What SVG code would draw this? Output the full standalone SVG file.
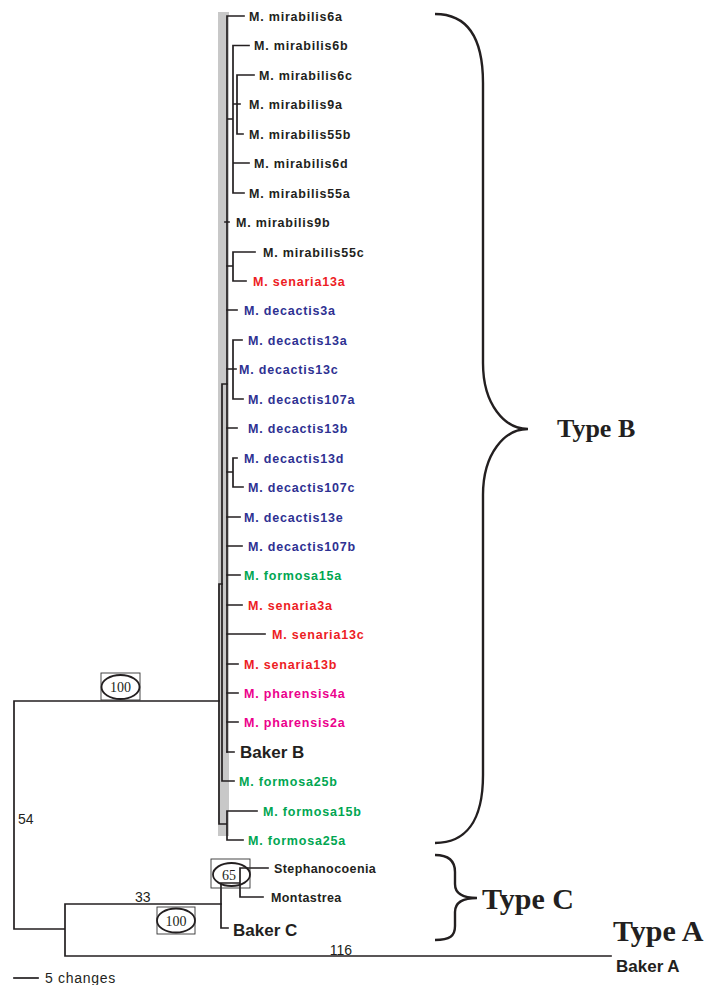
<svg xmlns="http://www.w3.org/2000/svg" width="723" height="985" viewBox="0 0 723 985">
<style>
.br{stroke:#231f20;stroke-width:1.7;fill:none;stroke-linecap:square}
.lb{font-family:"Liberation Sans",Arial,sans-serif;font-weight:bold;font-size:12.5px;letter-spacing:0.8px}
.sm{letter-spacing:0.4px}
.k{fill:#231f20}.r{fill:#ed1c24}.b{fill:#2e3192}.g{fill:#00a651}.m{fill:#ec008c}
.big{font-family:"Liberation Sans",Arial,sans-serif;font-weight:bold;font-size:17px;fill:#231f20}
.num{font-family:"Liberation Sans",Arial,sans-serif;font-size:14px;fill:#231f20}
.bs{font-family:"Liberation Serif","Times New Roman",serif;font-size:14px;fill:#231f20;text-anchor:middle}
.ty{font-family:"Liberation Serif","Times New Roman",serif;font-weight:bold;fill:#231f20}
.box{fill:none;stroke:#333;stroke-width:0.9}
.ell{fill:#fff;stroke:#231f20;stroke-width:1.8}
.brace{fill:none;stroke:#231f20;stroke-width:2.4}
</style>
<rect x="218" y="12" width="11" height="824" fill="#c8c8c8"/>
<g id="connectors" class="br">
<path d="M14,701H219M14,701V929H65M65,904V956M65,904H221M65,956H611"/>
<path d="M221,883V928H228M221,883H240M240,868V897M240,868H268M240,897H263"/>
<path d="M219,584V824M219,584H222M219,824H227M227,811V840M227,811H257M227,840H243"/>
<path d="M222,384V781M222,384H227M222,781H234"/>
<path d="M227,16V752M227,16H244M227,119H233M233,45.5V193M233,45.5H249M233,104H240M237,75V134M237,75H254M237,134H243M233,163H249M233,193H244"/>
<path d="M225,222H229M227,266H233M233,252V281M233,252H255M233,281H246M227,310H237"/>
<path d="M227,369H233M233,340V399M233,340H242M233,369H236M233,399H243M227,428H237"/>
<path d="M227,472H233M233,458V487M233,458H237M233,487H243M227,517H240M227,546H242M227,575H240M227,605H242M227,634H265M227,664H238M227,693H238M227,722H238M227,752H234"/>
<path d="M14,978H38"/>
</g>
<g id="mirabilis6a"><text class="lb k" x="249" y="20.5">M. mirabilis6a</text></g>
<g id="mirabilis6b"><text class="lb k" x="254" y="50">M. mirabilis6b</text></g>
<g id="mirabilis6c"><text class="lb k" x="259" y="79.5">M. mirabilis6c</text></g>
<g id="mirabilis9a"><text class="lb k" x="249" y="108.5">M. mirabilis9a</text></g>
<g id="mirabilis55b"><text class="lb k" x="249" y="138.5">M. mirabilis55b</text></g>
<g id="mirabilis6d"><text class="lb k" x="254" y="167.5">M. mirabilis6d</text></g>
<g id="mirabilis55a"><text class="lb k" x="249" y="197.5">M. mirabilis55a</text></g>
<g id="mirabilis9b"><text class="lb k" x="236" y="226.5">M. mirabilis9b</text></g>
<g id="mirabilis55c"><text class="lb k" x="263" y="256.5">M. mirabilis55c</text></g>
<g id="senaria13a"><text class="lb r" x="253" y="285.5">M. senaria13a</text></g>
<g id="decactis3a"><text class="lb b" x="244" y="314.5">M. decactis3a</text></g>
<g id="decactis13a"><text class="lb b" x="248" y="344.5">M. decactis13a</text></g>
<g id="decactis13c"><text class="lb b" x="239" y="373.5">M. decactis13c</text></g>
<g id="decactis107a"><text class="lb b" x="248" y="403.5">M. decactis107a</text></g>
<g id="decactis13b"><text class="lb b" x="248" y="432.5">M. decactis13b</text></g>
<g id="decactis13d"><text class="lb b" x="244" y="462.5">M. decactis13d</text></g>
<g id="decactis107c"><text class="lb b" x="248" y="491.5">M. decactis107c</text></g>
<g id="decactis13e"><text class="lb b" x="244" y="521.5">M. decactis13e</text></g>
<g id="decactis107b"><text class="lb b" x="248" y="550.5">M. decactis107b</text></g>
<g id="formosa15a"><text class="lb g" x="244" y="579.5">M. formosa15a</text></g>
<g id="senaria3a"><text class="lb r" x="248" y="609.5">M. senaria3a</text></g>
<g id="senaria13c"><text class="lb r" x="272" y="638.5">M. senaria13c</text></g>
<g id="senaria13b"><text class="lb r" x="244" y="668.5">M. senaria13b</text></g>
<g id="pharensis4a"><text class="lb m" x="244" y="697.5">M. pharensis4a</text></g>
<g id="pharensis2a"><text class="lb m" x="244" y="726.5">M. pharensis2a</text></g>
<g id="bakerB"><text class="big" x="240" y="758">Baker B</text></g>
<g id="formosa25b"><text class="lb g" x="239" y="785.5">M. formosa25b</text></g>
<g id="formosa15b"><text class="lb g" x="263" y="815.5">M. formosa15b</text></g>
<g id="formosa25a"><text class="lb g" x="248" y="844.5">M. formosa25a</text></g>
<g id="stephanocoenia"><text class="lb k sm" x="274" y="873">Stephanocoenia</text></g>
<g id="montastrea"><text class="lb k sm" x="271" y="902">Montastrea</text></g>
<g id="bakerC"><text class="big" x="233" y="936">Baker C</text></g>
<g id="bakerA"><text class="big" x="616" y="972">Baker A</text></g>
<g id="support100a"><rect class="box" x="101" y="673" width="39" height="27"/><ellipse class="ell" cx="120.5" cy="687" rx="19" ry="12"/><text class="bs" x="120.5" y="692">100</text></g>
<g id="support100b"><rect class="box" x="157" y="907" width="38" height="27"/><ellipse class="ell" cx="176" cy="920.5" rx="19" ry="12"/><text class="bs" x="176" y="925.5">100</text></g>
<g id="support65"><rect class="box" x="211" y="859" width="39" height="29"/><ellipse class="ell" cx="231.5" cy="874.5" rx="18.5" ry="11.5" style="fill:none"/><text class="bs" x="229" y="880">65</text></g>
<g id="labels">
<text class="num" x="18" y="824">54</text>
<text class="num" x="135" y="902">33</text>
<text class="num" x="341" y="955" text-anchor="middle">116</text>
<text class="num" x="45" y="983" style="letter-spacing:0.7px">5 changes</text>
</g>
<g id="typeB"><path class="brace" d="M435,14C465,14 483,35 483,83L483,363C483,405 505,429 528,429C505,429 483,453 483,495L483,775C483,822 465,843 435,843"/><text class="ty" x="557" y="437" font-size="26">Type B</text></g>
<g id="typeC"><path class="brace" d="M435,855C450,855 455,862 455,872L455,884C455,893 462,898 477,898C462,898 455,903 455,912L455,926C455,936 450,940 435,940"/><text class="ty" x="482" y="909" font-size="30">Type C</text></g>
<g id="typeA"><text class="ty" x="613" y="941" font-size="30">Type A</text></g>
</svg>
